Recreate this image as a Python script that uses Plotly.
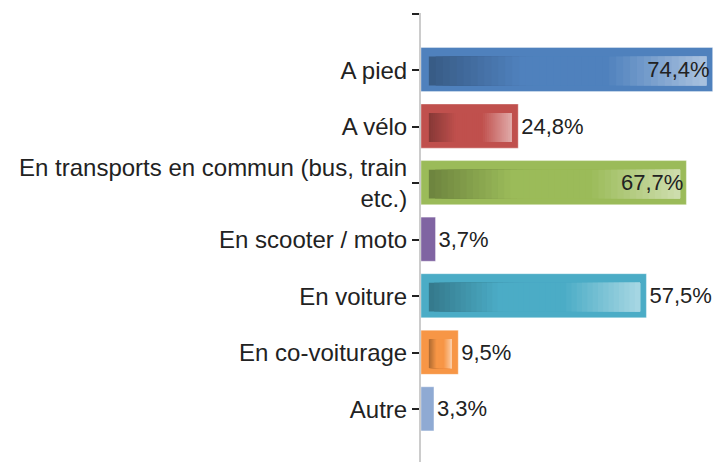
import plotly.graph_objects as go

categories = ["A pied", "A vélo", "En transports en commun (bus, train<br>etc.)",
              "En scooter / moto", "En voiture", "En co-voiturage", "Autre"]
values = [74.4, 24.8, 67.7, 3.7, 57.5, 9.5, 3.3]
labels = ["74,4%", "24,8%", "67,7%", "3,7%", "57,5%", "9,5%", "3,3%"]
colors = ["#4F81BD", "#C0504D", "#9BBB59", "#8064A2", "#4BACC6", "#F79646", "#8FAAD3"]
label_pos = ["inside", "outside", "inside", "outside", "outside", "outside", "outside"]

FONT = "Liberation Sans, Arial, sans-serif"
ypos = list(range(len(categories)))


def hex2rgb(h):
    h = h.lstrip("#")
    return tuple(int(h[i:i + 2], 16) for i in (0, 2, 4))


def mix(c1, c2, t):
    return tuple(a + (b - a) * t for a, b in zip(c1, c2))


def rgbstr(c):
    return "rgb(%d,%d,%d)" % tuple(round(v) for v in c)


def grad_color(base_hex, t):
    base = hex2rgb(base_hex)
    dark = tuple(v * 0.7 for v in base)
    light = mix(base, (255, 255, 255), 0.52)
    if t < 0.33:
        return rgbstr(mix(dark, base, t / 0.33))
    if t < 0.64:
        return rgbstr(base)
    return rgbstr(mix(base, light, (t - 0.64) / 0.36))


fig = go.Figure()

# outer bars
fig.add_trace(go.Bar(
    y=ypos, x=values, orientation="h",
    marker=dict(color=colors, line=dict(color="rgba(255,255,255,0.35)", width=1)),
    width=0.78, offset=-0.40, hoverinfo="skip", showlegend=False,
))

# inner gradient
INSET_L, INSET_R = 2.0, 1.6
N = 40
inner_w = [v - INSET_L - INSET_R for v in values]
for k in range(N):
    bases, xs, cols = [], [], []
    for w, c in zip(inner_w, colors):
        if w <= 0.5:
            bases.append(0)
            xs.append(0)
            cols.append("rgba(0,0,0,0)")
        else:
            s = w / N
            bases.append(INSET_L + k * s)
            xs.append(w - k * s)
            cols.append(grad_color(c, (k + 0.5) / N))
    fig.add_trace(go.Bar(
        y=ypos, x=xs, base=bases, orientation="h",
        marker=dict(color=cols, line=dict(width=0)),
        width=0.51, offset=-0.24, hoverinfo="skip", showlegend=False,
    ))

# labels
fig.add_trace(go.Bar(
    y=ypos, x=values, orientation="h",
    marker=dict(color="rgba(0,0,0,0)", line=dict(width=0)),
    width=0.78, offset=-0.40,
    text=labels, textposition=label_pos, insidetextanchor="end",
    textfont=dict(family=FONT, size=22, color="#222222"),
    insidetextfont=dict(family=FONT, size=22, color="#222222"),
    outsidetextfont=dict(family=FONT, size=22, color="#222222"),
    constraintext="none", cliponaxis=False,
    hoverinfo="skip", showlegend=False,
))

fig.update_layout(
    width=715, height=462,
    margin=dict(l=421, r=0, t=13, b=0),
    paper_bgcolor="white", plot_bgcolor="white",
    barmode="overlay",
    xaxis=dict(range=[0, 75], visible=False),
    yaxis=dict(
        range=[6.93, -1.01],
        tickmode="array", tickvals=[-1] + ypos, ticktext=[""] + categories,
        ticks="outside", ticklen=7, tickwidth=2, tickcolor="#222222",
        showline=True, linecolor="#cccccc", linewidth=2,
        showgrid=False, zeroline=False, layer="below traces",
        tickfont=dict(family=FONT, size=24, color="#222222"),
    ),
)

fig.write_html("out.html", config={"displayModeBar": False},
               post_script="document.body.style.margin='0';document.body.style.overflow='hidden';")
